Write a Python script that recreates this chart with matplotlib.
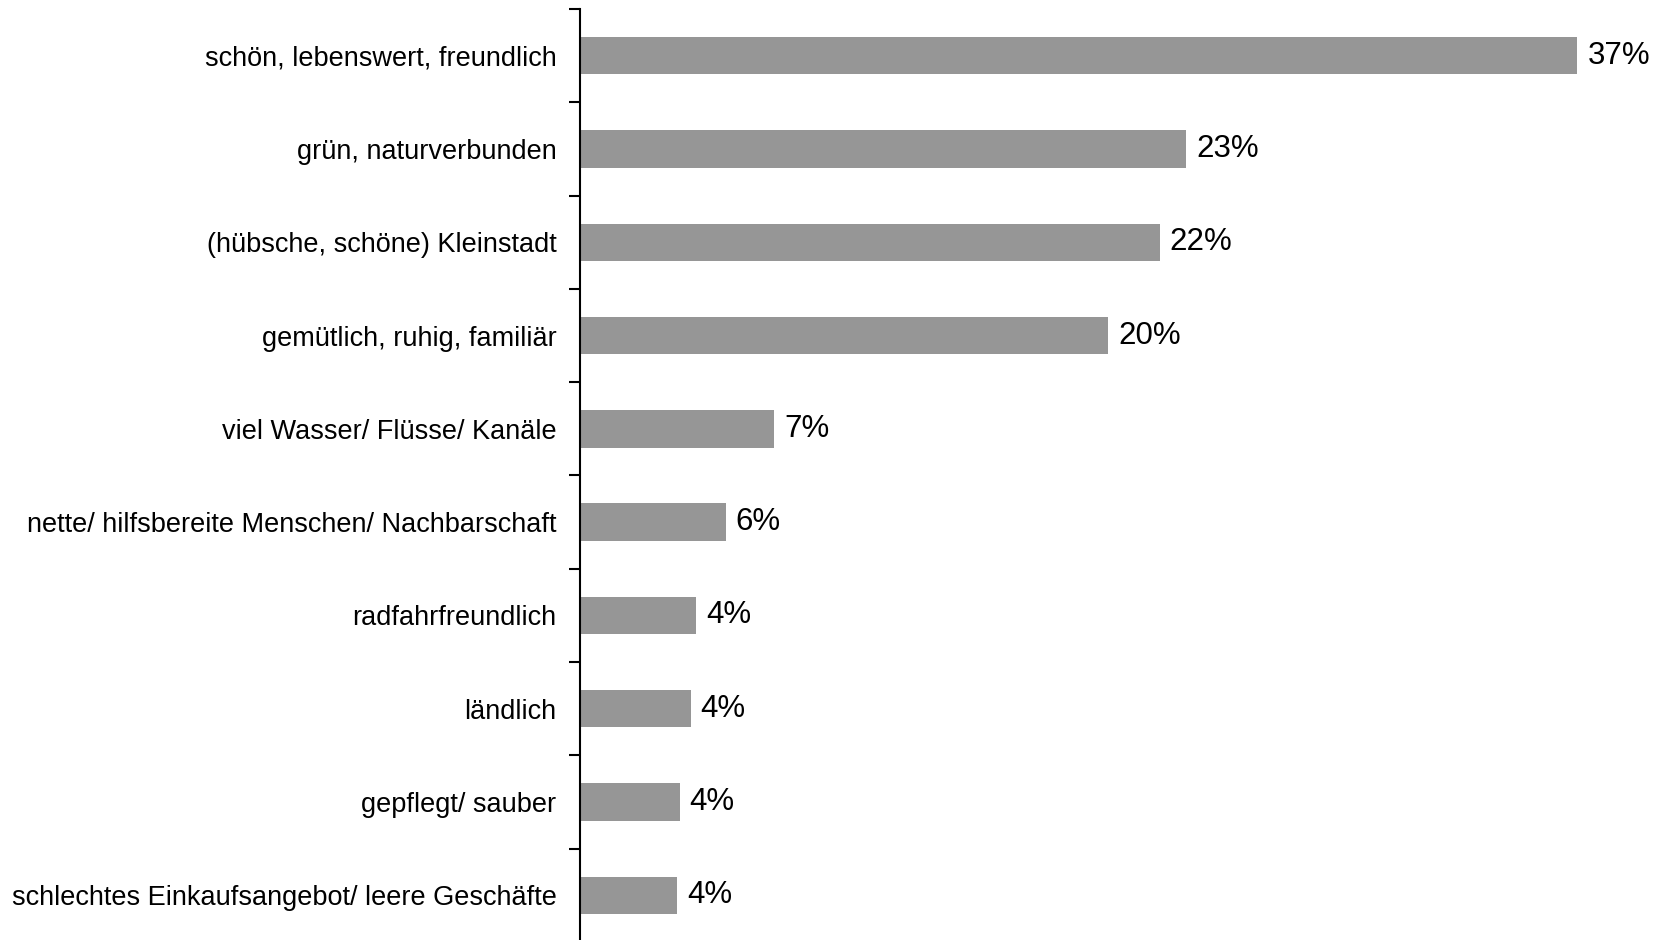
import matplotlib.pyplot as plt
import numpy as np

plt.rcParams['font.family'] = ['Liberation Sans', 'DejaVu Sans']

categories = [
    "schön, lebenswert, freundlich",
    "grün, naturverbunden",
    "(hübsche, schöne) Kleinstadt",
    "gemütlich, ruhig, familiär",
    "viel Wasser/ Flüsse/ Kanäle",
    "nette/ hilfsbereite Menschen/ Nachbarschaft",
    "radfahrfreundlich",
    "ländlich",
    "gepflegt/ sauber",
    "schlechtes Einkaufsangebot/ leere Geschäfte",
]
values = [37.0, 22.5, 21.5, 19.6, 7.2, 5.4, 4.3, 4.1, 3.7, 3.6]
labels = ["37%", "23%", "22%", "20%", "7%", "6%", "4%", "4%", "4%", "4%"]

W, H = 1669, 940
fig = plt.figure(figsize=(W / 100, H / 100), dpi=100)
ax = fig.add_axes([580 / W, -2 / H, 1089 / W, 933 / H])

y = np.arange(len(categories))
ax.barh(y, values, height=0.4, color='#969696')
for yi, v, lab in zip(y, values, labels):
    ax.text(v + 0.37, yi, lab, va='center', ha='left', fontsize=22.5)

ax.set_xlim(0, 40.4)
ax.set_ylim(len(categories) - 0.5, -0.5)
ax.set_yticks(y)
ax.set_yticklabels(categories, fontsize=19.5)
ax.tick_params(axis='y', which='major', length=0, pad=17)
ax.set_yticks(np.arange(-0.5, len(categories), 1), minor=True)
ax.tick_params(axis='y', which='minor', length=8, width=1.5, direction='out')
ax.set_xticks([])
for s in ['top', 'right', 'bottom']:
    ax.spines[s].set_visible(False)
ax.spines['left'].set_linewidth(1.5)

fig.savefig('out.png', dpi=100)
